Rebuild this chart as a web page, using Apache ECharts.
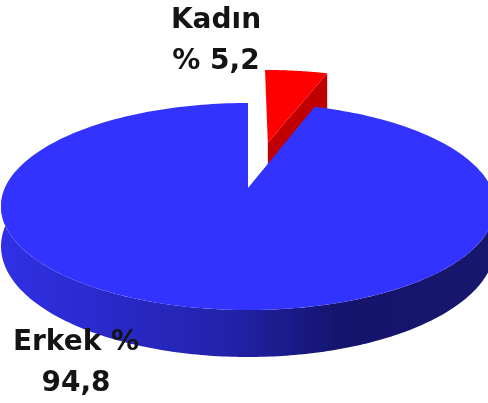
<!DOCTYPE html>
<html><head><meta charset="utf-8">
<style>html,body{margin:0;padding:0;background:#fff}#c{width:488px;height:403px;filter:blur(0.5px)}</style>
<script src="https://cdn.jsdelivr.net/npm/echarts@6/dist/echarts.min.js"></script>
</head><body><div id="c"></div>
<script>
var categories = ['Kadın', 'Erkek'];
var values = [5.2, 94.8];
var labelLines = [['Kadın', '% 5,2'], ['Erkek %', '94,8']];
var explode = [0.5, 0];
var topColors = ['#ff0000', '#3333ff'];
var sideColors = ['#c00000', null];

// projection of a tilted 3D pie
var CX = 248, CY = 188, KX = 243, KY = 100.2, P = 0.1787, H = 38.6;
function project(u, v, drop) {
  var d = 1 - P * v;
  return [CX + KX * u / d, CY + (KY * v + drop) / d];
}
var total = values.reduce(function (a, b) { return a + b; }, 0);
var chart = echarts.init(document.getElementById('c'), null, {renderer: 'canvas'});

function renderItem(params, api) {
  var i = params.dataIndex, children = [];
  var before = 0;
  for (var k = 0; k < i; k++) before += values[k];
  var a0 = before / total * 2 * Math.PI;
  var a1 = (before + api.value(0)) / total * 2 * Math.PI;
  var mid = (a0 + a1) / 2 + 0.015, e = explode[i];
  var ou = e ? Math.sin(mid) * e : 0, ov = e ? -Math.cos(mid) * e : 0;
  var drop = sideColors[i] ? H * 1.4 : H;
  function pt(a, d) { return project(ou + Math.sin(a), ov - Math.cos(a), d); }
  function c(d) { return project(ou, ov, d); }
  var N = 240, j, t;

  if (sideColors[i]) {
    children.push({type: 'polygon', shape: {points: [c(0), pt(a1, 0), pt(a1, drop), c(drop)]},
      style: {fill: sideColors[i]}});
  } else {
    var w = [], lo = Math.max(a0, 1.4), hi = Math.min(a1, 2 * Math.PI - 1.4);
    for (j = 0; j <= N; j++) { w.push(pt(lo + (hi - lo) * j / N, 0)); }
    for (j = N; j >= 0; j--) { w.push(pt(lo + (hi - lo) * j / N, drop)); }
    children.push({type: 'polygon', shape: {points: w}, style: {
      fill: new echarts.graphic.LinearGradient(0, 0, 488, 0, [
        {offset: 0, color: '#3030e6'}, {offset: 0.47, color: '#2222aa'},
        {offset: 0.7, color: '#14146c'}, {offset: 1, color: '#17176e'}], true)}});
  }
  var s = [c(0)];
  for (j = 0; j <= N; j++) { t = a0 + (a1 - a0) * j / N; s.push(pt(t, 0)); }
  children.push({type: 'polygon', shape: {points: s}, style: {fill: topColors[i]}});
  return {type: 'group', children: children};
}

var labelPos = [[216, 21, 62], [76, 343, 384]];
var graphics = [];
labelLines.forEach(function (lines, i) {
  lines.forEach(function (txt, j) {
    graphics.push({type: 'text', z: 100, x: labelPos[i][0], y: labelPos[i][j + 1],
      style: {text: txt, fill: '#141414', font: 'bold 28px "DejaVu Sans"', textAlign: 'center', textVerticalAlign: 'middle'}});
  });
});

chart.setOption({
  animation: false,
  backgroundColor: '#fff',
  series: [{type: 'custom', coordinateSystem: 'none', silent: true, renderItem: renderItem,
    data: values.map(function (v, i) { return {name: categories[i], value: [v]}; })}],
  graphic: graphics
});
</script></body></html>
